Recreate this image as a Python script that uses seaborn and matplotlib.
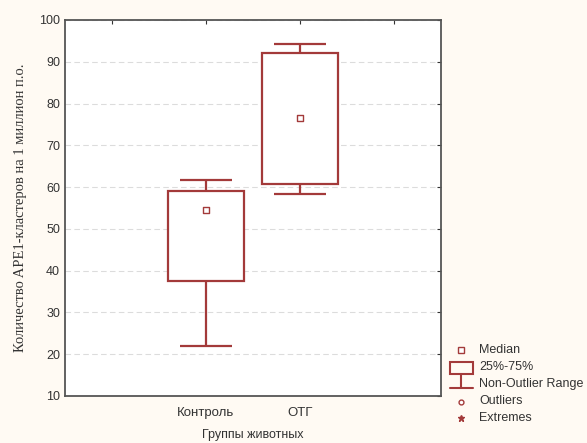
import numpy as np
import pandas as pd
import seaborn as sns
import matplotlib.pyplot as plt
from matplotlib.patches import Rectangle
from matplotlib.lines import Line2D

# --- data ---
groups = ["Контроль", "ОТГ"]
# min, q1, median, q3, max for each group
control_vals = [21.9, 37.5, 54.5, 59.0, 61.8]
otg_vals = [58.4, 60.7, 76.5, 92.0, 94.2]
medians = [54.5, 76.5]

order = [" ", "Контроль", "ОТГ", "  "]
tick_labels = ["", "Контроль", "ОТГ", ""]

df = pd.DataFrame({
    "group": ["Контроль"] * len(control_vals) + ["ОТГ"] * len(otg_vals),
    "value": control_vals + otg_vals,
})
df_med = pd.DataFrame({"group": groups, "median": medians})

red = "#a33a3a"
bg = "#fffaf3"

sns.set_style("white")
plt.rcParams['font.family'] = ['Liberation Sans', 'DejaVu Sans']

fig = plt.figure(figsize=(5.87, 4.43), dpi=100, facecolor=bg)
ax = fig.add_axes([65 / 587, 1 - 396 / 443, 376 / 587, 376 / 443])
ax.set_facecolor("white")

sns.boxplot(data=df, x="group", y="value", order=order, whis=(0, 100),
            width=0.81, ax=ax, color="white", linewidth=1.6,
            boxprops=dict(facecolor="white", edgecolor=red),
            whiskerprops=dict(color=red), capprops=dict(visible=False),
            medianprops=dict(visible=False), showfliers=False)
for ln in ax.lines:
    ln.set_color(red)

# wider whisker caps, like in the original
for g in groups:
    pos = order.index(g)
    vals = df.loc[df["group"] == g, "value"]
    ax.hlines([vals.min(), vals.max()], pos - 0.28, pos + 0.28, color=red, lw=1.6, zorder=3)

sns.stripplot(data=df_med, x="group", y="median", order=order, jitter=False,
              marker="s", size=4, color="white", edgecolor=red, linewidth=1,
              ax=ax, zorder=5)

ax.set_xlim(-0.5, 3.5)
ax.set_ylim(10, 100)
ax.set_yticks(np.arange(10, 101, 10))
ax.set_xticks(range(4))
ax.set_xticklabels(tick_labels)
ax.yaxis.grid(True, linestyle=(0, (5, 3)), color="#dcdcdc", linewidth=0.8)
ax.set_axisbelow(True)
ax.tick_params(direction="in", length=3, top=True, right=True,
               labelsize=9, labelcolor="#333333", color="#333333")
ax.tick_params(axis="x", pad=8, labelsize=9.5)
for s in ax.spines.values():
    s.set_color("#555555")
    s.set_linewidth(1.3)

ax.set_xlabel("Группы животных", fontsize=9, color="#333333", labelpad=7)
ax.set_ylabel("Количество APE1-кластеров на 1 миллион п.о.",
              fontsize=10.5, family="Liberation Serif", color="#333333", labelpad=9)

# legend drawn in pixel coordinates
lg = fig.add_axes([0, 0, 1, 1], facecolor="none")
lg.set_xlim(0, 587)
lg.set_ylim(443, 0)
lg.axis("off")
lg.plot([461], [350], marker="s", ms=4, mfc="white", mec=red, mew=1)
lg.add_patch(Rectangle((450, 362), 23, 12, fill=False, edgecolor=red, lw=1.5))
lg.add_line(Line2D([461, 461], [374, 388], color=red, lw=1.5))
lg.add_line(Line2D([450, 473], [388, 388], color=red, lw=1.5))
lg.plot([461], [402], marker="o", ms=3.5, mfc="white", mec=red, mew=1)
lg.plot([461], [418], marker="*", ms=5, color=red)
legend_items = ["Median", "25%-75%", "Non-Outlier Range", "Outliers", "Extremes"]
legend_y = [350, 367, 384, 401, 418]
for lab, yy in zip(legend_items, legend_y):
    lg.text(479, yy, lab, fontsize=9, color="#333333", va="center", ha="left")

fig.savefig("out.png", dpi=100, facecolor=bg)
